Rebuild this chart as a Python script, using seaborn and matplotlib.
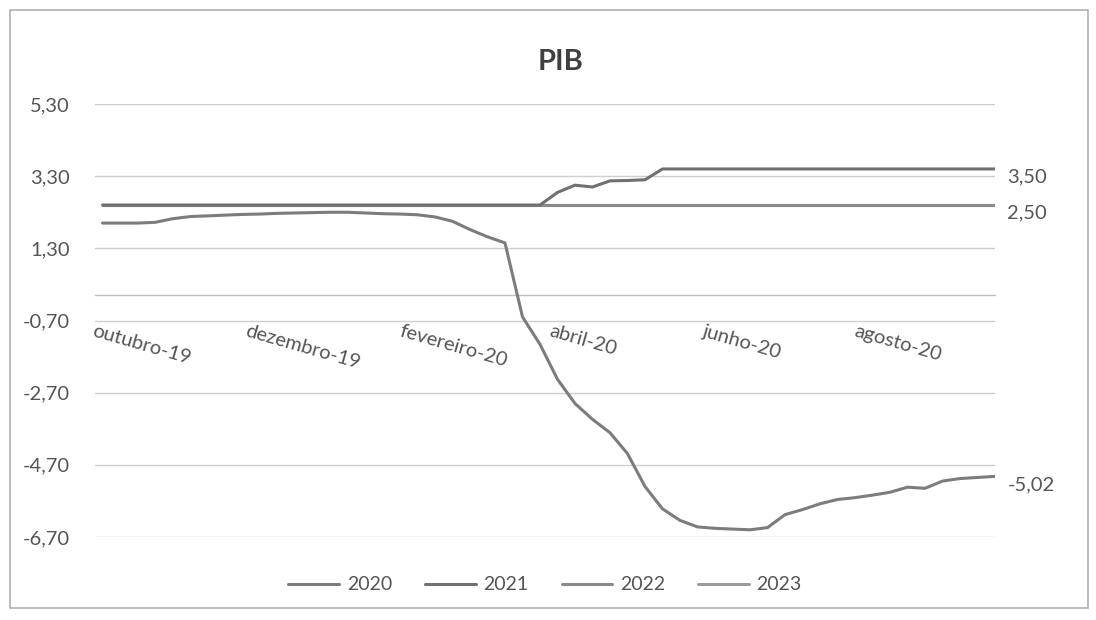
import matplotlib
matplotlib.use("Agg")
import matplotlib.pyplot as plt
from matplotlib.lines import Line2D
from matplotlib.patches import Rectangle
import numpy as np
import pandas as pd
import seaborn as sns

# ---------------- data ----------------
dates = pd.date_range("2019-10-04", periods=52, freq="7D")

pib_2020 = [2.00, 2.00, 2.00, 2.02, 2.12, 2.18, 2.20, 2.22, 2.24, 2.25,
            2.27, 2.28, 2.29, 2.30, 2.30, 2.28, 2.26, 2.25, 2.23, 2.17,
            2.05, 1.82, 1.62, 1.45, -0.60, -1.36, -2.33, -3.00, -3.44, -3.81,
            -4.39, -5.30, -5.92, -6.24, -6.42, -6.46, -6.48, -6.50, -6.44, -6.08,
            -5.94, -5.78, -5.66, -5.61, -5.54, -5.46, -5.32, -5.35, -5.15, -5.08,
            -5.05, -5.02]
pib_2021 = [2.50] * 26 + [2.85, 3.05, 3.00, 3.17, 3.18, 3.20] + [3.50] * 20
pib_2022 = [2.50] * 52
pib_2023 = [2.50] * 52

series_names = ["2020", "2021", "2022", "2023"]
series_values = [pib_2020, pib_2021, pib_2022, pib_2023]

yticks = [-6.70, -4.70, -2.70, -0.70, 1.30, 3.30, 5.30]
xtick_dates = ["2019-10-01", "2019-12-01", "2020-02-01", "2020-04-01", "2020-06-01", "2020-08-01"]
xtick_labels = ["outubro-19", "dezembro-19", "fevereiro-20", "abril-20", "junho-20", "agosto-20"]

end_labels = {"2020": "-5,02", "2021": "3,50", "2022": "2,50"}

# ---------------- styling ----------------
sns.set_theme(style="white")
plt.rcParams["font.family"] = ["Lato", "DejaVu Sans"]

colors = {"2020": "#7c7c7c", "2021": "#707070", "2022": "#8a8a8a", "2023": "#9c9c9c"}
text_color = "#555555"

df = pd.concat([pd.DataFrame({"data": dates, "valor": v, "ano": n})
                for n, v in zip(series_names, series_values)], ignore_index=True)

fig = plt.figure(figsize=(10.96, 6.20), dpi=100)
fig.patch.set_facecolor("white")
ax = fig.add_axes([95 / 1096, 1 - 537 / 620, 900 / 1096, 433 / 620])

# outer chart border
fig.add_artist(Rectangle((10 / 1096, 1 - 608 / 620), 1078 / 1096, 598 / 620,
                         transform=fig.transFigure, fill=False,
                         edgecolor="#b0b0b0", linewidth=1.2))

# gridlines
for yv in yticks:
    ax.axhline(yv, color="#cfcfcf", linewidth=1.0, zorder=0)

# draw lines (later years first so 2020/2021 on top)
order = ["2023", "2022", "2021", "2020"]
sns.lineplot(data=df, x="data", y="valor", hue="ano", hue_order=order,
             palette=colors, linewidth=2.2, ax=ax, legend=False, zorder=3)

ax.set_ylim(-6.70, 5.30)
ax.set_xlim(pd.Timestamp("2019-10-01"), dates[-1])
ax.set_yticks(yticks)
ax.set_yticklabels([f"{v:.2f}".replace(".", ",") for v in yticks],
                   fontsize=14.5, color=text_color)
ax.tick_params(axis="y", length=0, pad=18)

# x axis crossing at 0
ax.spines["bottom"].set_position(("data", 0))
ax.spines["bottom"].set_color("#bdbdbd")
ax.spines["bottom"].set_linewidth(1.0)
for s in ["left", "right", "top"]:
    ax.spines[s].set_visible(False)
ax.set_xticks(pd.to_datetime(xtick_dates))
ax.set_xticklabels(xtick_labels, fontsize=14.5, color=text_color,
                   rotation=-16, ha="left", va="top", rotation_mode="anchor")
ax.tick_params(axis="x", length=0, pad=20)
ax.set_xlabel("")
ax.set_ylabel("")

# end-of-line labels
for name, txt in end_labels.items():
    vals = series_values[series_names.index(name)]
    ax.annotate(txt, xy=(dates[-1], vals[-1]), xytext=(9, -6),
                textcoords="offset points", ha="left", va="center",
                fontsize=14.5, color=text_color, annotation_clip=False)

# title
fig.text(561 / 1096, 1 - 62 / 620, "PIB", ha="center", va="center",
         fontsize=21, fontweight="bold", color="#404040")

# legend
handles = [Line2D([0], [0], color=colors[n], linewidth=2.2) for n in series_names]
fig.legend(handles, series_names, loc="center", bbox_to_anchor=(545 / 1096, 1 - 585 / 620),
           ncol=4, frameon=False, fontsize=14, handlelength=2.6, columnspacing=1.7,
           handletextpad=0.4, labelcolor=text_color)

fig.savefig("out.png", dpi=100, facecolor="white")
